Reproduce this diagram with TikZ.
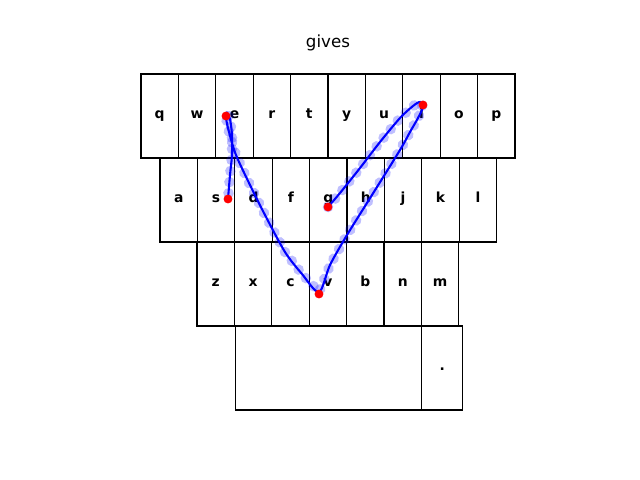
\documentclass[tikz,border=0pt]{standalone}
\usepackage{fontspec}
\setmainfont{DejaVu Sans}
\usetikzlibrary{decorations.markings}
\definecolor{swipeLine}{HTML}{0000FF}
\definecolor{swipeHit}{HTML}{FF0000}
\tikzset{
  kbfig/.style={
    x=0.72pt, y=-0.72pt,
    every node/.append style={font=\fontsize{10}{12}\selectfont\bfseries},
  },
  keynode/.style={
    draw=black, line width=0.8pt, inner sep=0pt,
    minimum width=26.93pt, minimum height=60.48pt,
    text height=0.7em, text depth=0.3em,
  },
  titlenode/.style={font=\fontsize{12}{14}\selectfont},
  % the samples of the trace: pale blue discs under the line
  tracedots/.style={
    decorate, decoration={markings,
      mark=between positions 0 and 1 step 8pt with
        {\fill[swipeLine, opacity=0.25] (0,0) circle (3.8pt);}},
  },
  swipe/.style={draw=swipeLine, line width=1.5pt},
  hitdot/.style={fill=swipeHit},
}
\begin{document}
\begin{tikzpicture}[kbfig]
  \useasboundingbox (0,0) rectangle (640,480);
  \node[titlenode] (title) at (328,43) {gives};
  % keyboard rows
  \foreach \k [count=\n from 0] in {q,w,e,r,t,y,u,i,o,p}
    \node[keynode] (\k) at (159.7+37.4*\n,116) {\k};
  \foreach \k [count=\n from 0] in {a,s,d,f,g,h,j,k,l}
    \node[keynode] (\k) at (178.7+37.4*\n,200) {\k};
  \foreach \k [count=\n from 0] in {z,x,c,v,b,n,m}
    \node[keynode] (\k) at (215.7+37.4*\n,284) {\k};
  \node[keynode, minimum width=134.42pt] (space) at (328.4,368) {};
  \node[keynode, minimum width=29.52pt] (dot) at (442.2,368) {.};
  % trace of the word
  \coordinate (hitG) at (328,207);
  \coordinate (hitI) at (423,105);
  \coordinate (hitV) at (319,294);
  \coordinate (hitE) at (226,116);
  \coordinate (hitS) at (228,199);
  \path[tracedots] (hitG) -- (340,193) -- (360,168) -- (380,142) -- (400,118)
    -- (413,106) -- (420,102) -- (423,107) -- (418,118) -- (410,132)
    -- (400,150) -- (372,195) -- (347,235) -- (330,265) -- (319,292)
    -- (302,274) -- (285,252) -- (265,215) -- (250,185) -- (236,155)
    -- (229,132) -- (226,118) -- (227,113) -- (230,119) -- (232,135)
    -- (232,155) -- (230,175) -- (hitS);
  \draw[swipe] plot[smooth, tension=0.5] coordinates {
    (hitG) (340,193) (360,168) (380,142) (400,118) (413,106) (420,102)
    (423,107) (418,118) (410,132) (400,150) (372,195) (347,235)
    (330,265) (319,292) (302,274) (285,252) (265,215) (250,185)
    (236,155) (229,132) (226,118) (227,113) (230,119) (232,135)
    (232,155) (230,175) (hitS)};
  \foreach \h in {hitG,hitI,hitV,hitE,hitS}
    \fill[hitdot] (\h) circle (3.2pt);
\end{tikzpicture}
\end{document}
